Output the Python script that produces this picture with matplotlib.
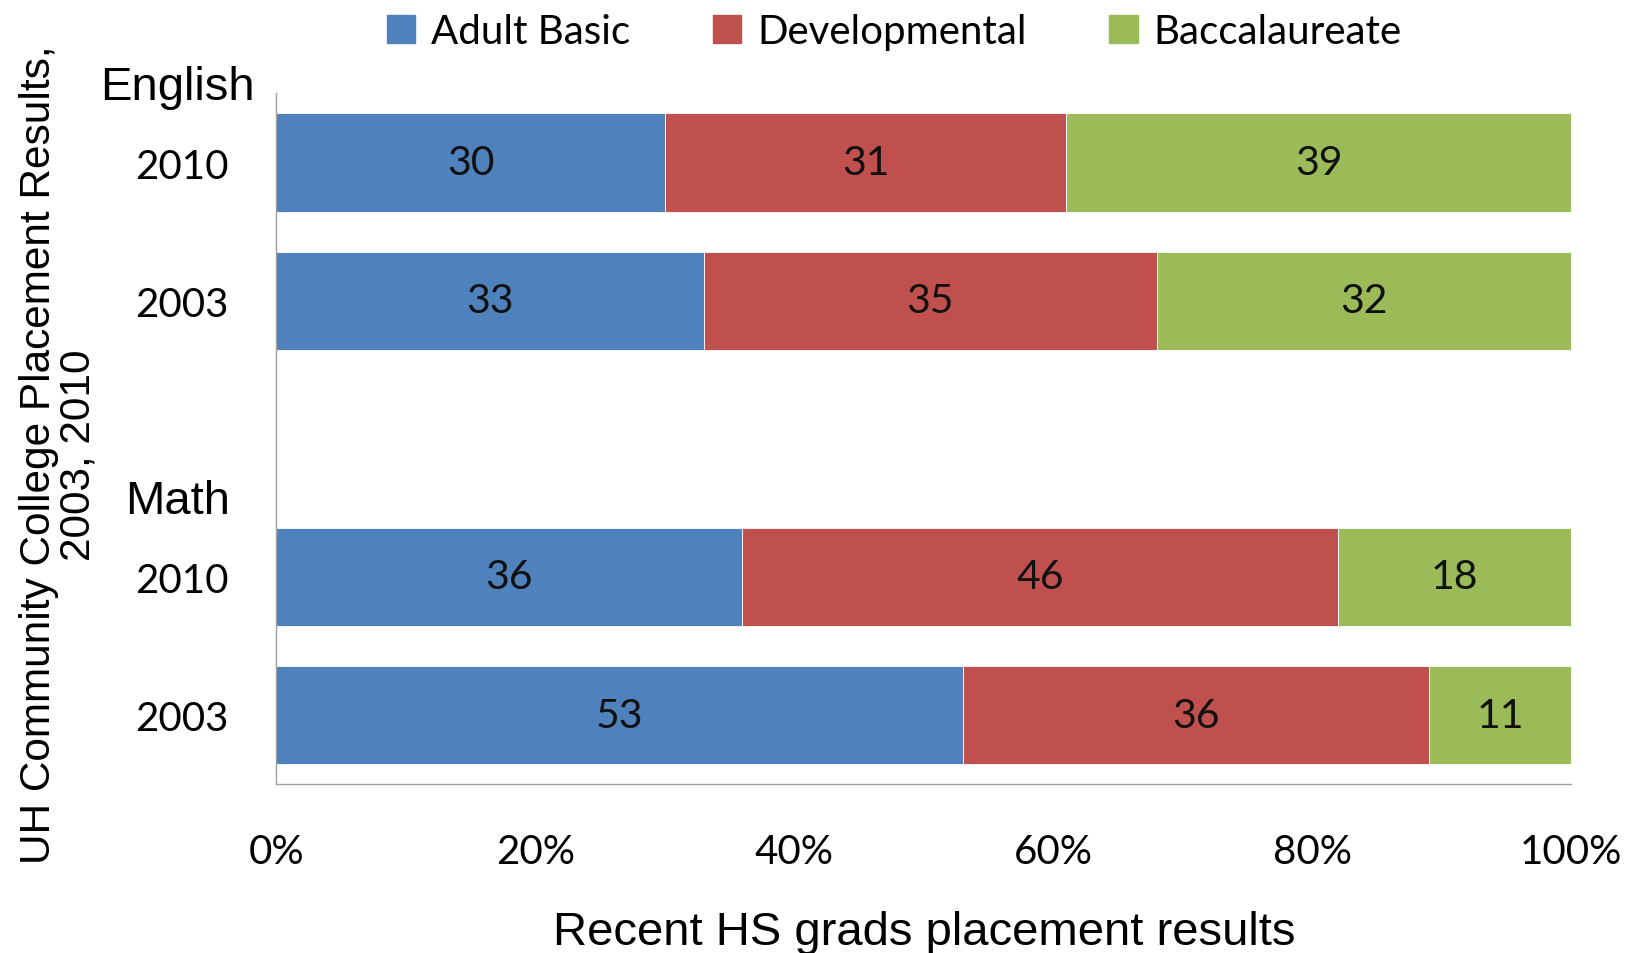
import numpy as np
import matplotlib
matplotlib.use("Agg")
import matplotlib.pyplot as plt
from matplotlib.patches import Patch
import matplotlib.transforms as mtransforms

# data (percent of recent HS grads)
subjects = ["English", "Math"]
years = ["2010", "2003"]
adult_basic = [30, 33, 36, 53]
developmental = [31, 35, 46, 36]
baccalaureate = [39, 32, 18, 11]
series_names = ["Adult Basic", "Developmental", "Baccalaureate"]
colors = ["#4F81BD", "#C0504D", "#9BBB59"]
xticks = [0, 20, 40, 60, 80, 100]

calibri_like = "Lato"
arial_like = "Liberation Sans"

# two bars per subject, one empty slot between the subjects
pos = []
for i in range(len(subjects)):
    for j in range(len(years)):
        pos.append(i * (len(years) + 1) + j)
pos = np.array(pos)
ylabels = years * len(subjects)

fig = plt.figure(figsize=(16.35, 9.54), dpi=100)
ax = fig.add_axes([0.169, 0.177, 0.792, 0.724])

left = np.zeros(len(pos))
for vals, name, c in zip([adult_basic, developmental, baccalaureate], series_names, colors):
    bars = ax.barh(pos, vals, left=left, height=0.71, color=c, label=name,
                   edgecolor="white", linewidth=0.6)
    ax.bar_label(bars, label_type="center", fontsize=29.5, family=calibri_like,
                 color="#111111")
    left += np.array(vals)

ax.set_xlim(0, 100)
ax.set_ylim(pos.max() + 0.5, -0.5)
ax.set_xticks(xticks)
ax.set_xticklabels([f"{t}%" for t in xticks], fontsize=29, family=calibri_like)
ax.set_yticks(pos)
ax.set_yticklabels(ylabels, fontsize=29, family=calibri_like, ha="center")
ax.tick_params(axis="x", length=0, pad=35)
ax.tick_params(axis="y", length=0, pad=68)

for s in ["top", "right"]:
    ax.spines[s].set_visible(False)
for s in ["left", "bottom"]:
    ax.spines[s].set_color("#A0A0A0")
    ax.spines[s].set_linewidth(1.0)

# subject group labels above the first bar of each group
trans = mtransforms.blended_transform_factory(ax.transAxes, ax.transData)
for i, subj in enumerate(subjects):
    ax.text(-0.076, pos[i * len(years)] - 0.55, subj, transform=trans,
            ha="center", va="center", fontsize=34, family=arial_like)

ax.set_xlabel("Recent HS grads placement results", fontsize=34,
              family=arial_like, labelpad=29)
fig.text(0.036, 0.523, "UH Community College Placement Results,\n2003, 2010",
         rotation=90, ha="center", va="center", multialignment="center",
         fontsize=30.5, family=arial_like, linespacing=1.0)

handles = [Patch(color=c, label=n) for c, n in zip(colors, series_names)]
fig.legend(handles=handles, loc="center", bbox_to_anchor=(0.547, 0.966), ncol=3,
           frameon=False, prop={"family": calibri_like, "size": 29},
           handlelength=0.7, handleheight=0.7, handletextpad=0.4, columnspacing=2.05)

fig.savefig("out.png", dpi=100)
